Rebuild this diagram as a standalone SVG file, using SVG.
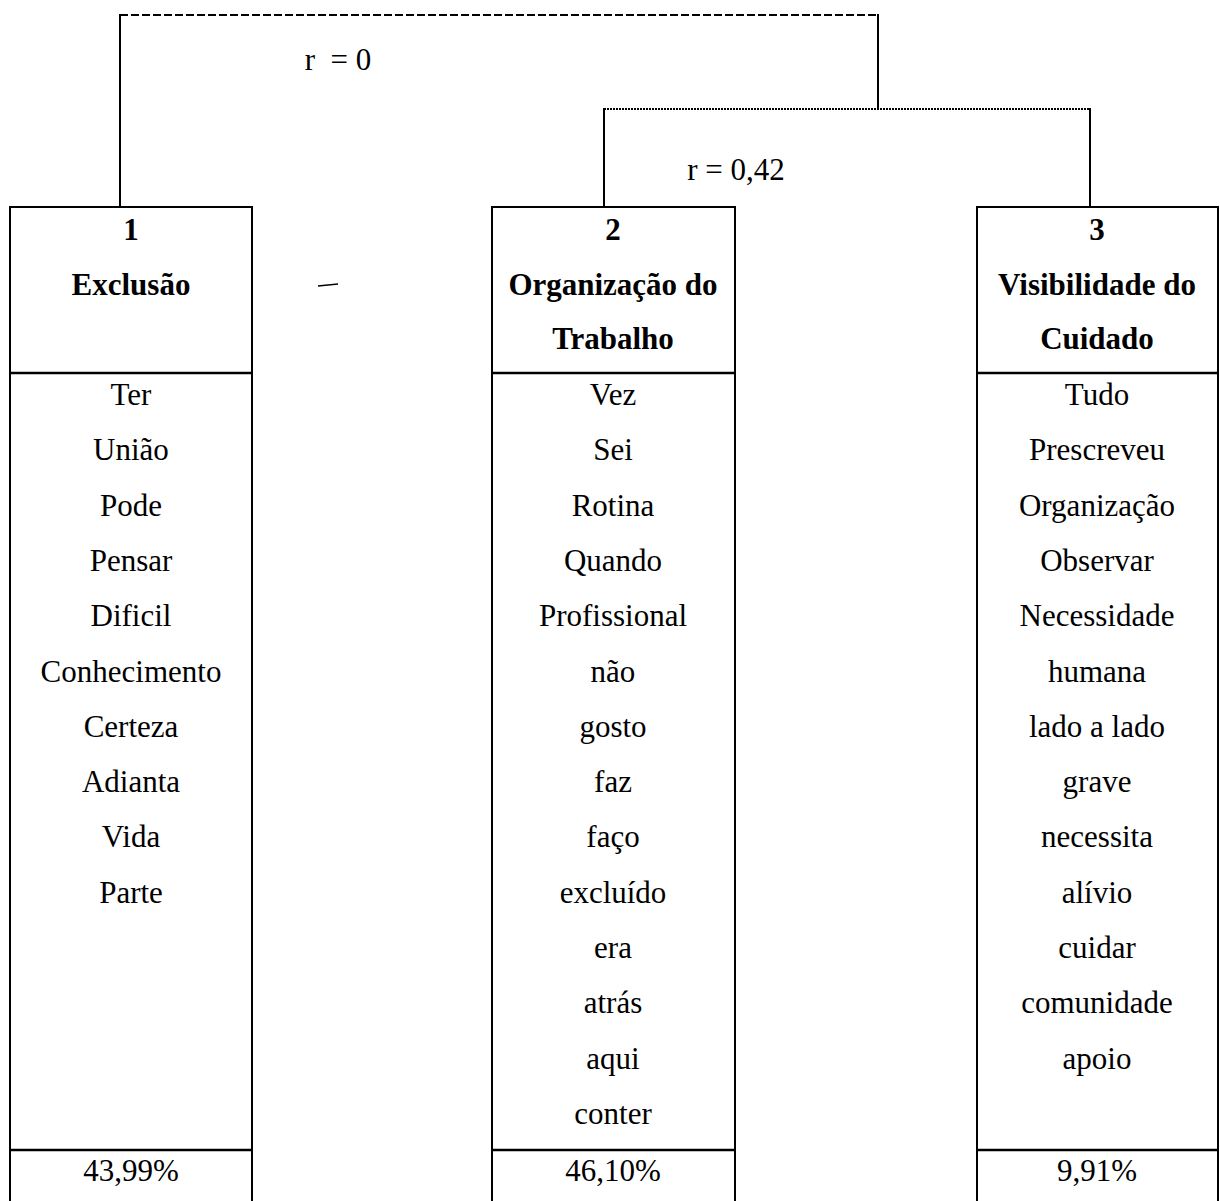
<svg xmlns="http://www.w3.org/2000/svg" width="1220" height="1201" viewBox="0 0 1220 1201">
<style>
.box{fill:none;stroke:#000;stroke-width:2}
.div{stroke:#000;stroke-width:2.5}
.t{font-family:"Liberation Serif","Times New Roman",serif;font-size:31px;fill:#000;text-anchor:middle}
.b{font-weight:bold}
.c{fill:none;stroke:#000;stroke-width:2}
.dash{fill:none;stroke:#000;stroke-width:2;stroke-dasharray:8 3}
.dot{fill:none;stroke:#000;stroke-width:2;stroke-dasharray:2 1}
</style>
<rect width="1220" height="1201" fill="#fff"/>
<g id="connectors">
<line class="dash" x1="120" y1="15" x2="878" y2="15"/>
<line class="c" x1="120" y1="14" x2="120" y2="207"/>
<line class="c" x1="878" y1="14" x2="878" y2="109"/>
<line class="dot" x1="604" y1="109" x2="1090" y2="109"/>
<line class="c" x1="604" y1="108" x2="604" y2="207"/>
<line class="c" x1="1090" y1="108" x2="1090" y2="207"/>
<text class="t" x="338" y="70" xml:space="preserve">r  = 0</text>
<text class="t" x="736" y="180">r = 0,42</text>
</g>
<line x1="318" y1="286" x2="338" y2="284" stroke="#000" stroke-width="1.5"/>
<g id="node1">
<path class="box" d="M10,1201 V207 H252 V1201"/>
<line class="div" x1="10" y1="373" x2="252" y2="373"/>
<line class="div" x1="10" y1="1150" x2="252" y2="1150"/>
<text class="t b" x="131" y="240">1</text>
<text class="t b" x="131" y="295">Exclusão</text>
<text class="t" x="131" y="405">Ter</text>
<text class="t" x="131" y="460">União</text>
<text class="t" x="131" y="516">Pode</text>
<text class="t" x="131" y="571">Pensar</text>
<text class="t" x="131" y="626">Dificil</text>
<text class="t" x="131" y="682">Conhecimento</text>
<text class="t" x="131" y="737">Certeza</text>
<text class="t" x="131" y="792">Adianta</text>
<text class="t" x="131" y="847">Vida</text>
<text class="t" x="131" y="903">Parte</text>
<text class="t" x="131" y="1181">43,99%</text>
</g>
<g id="node2">
<path class="box" d="M492,1201 V207 H735 V1201"/>
<line class="div" x1="492" y1="373" x2="735" y2="373"/>
<line class="div" x1="492" y1="1150" x2="735" y2="1150"/>
<text class="t b" x="613" y="240">2</text>
<text class="t b" x="613" y="295">Organização do</text>
<text class="t b" x="613" y="349">Trabalho</text>
<text class="t" x="613" y="405">Vez</text>
<text class="t" x="613" y="460">Sei</text>
<text class="t" x="613" y="516">Rotina</text>
<text class="t" x="613" y="571">Quando</text>
<text class="t" x="613" y="626">Profissional</text>
<text class="t" x="613" y="682">não</text>
<text class="t" x="613" y="737">gosto</text>
<text class="t" x="613" y="792">faz</text>
<text class="t" x="613" y="847">faço</text>
<text class="t" x="613" y="903">excluído</text>
<text class="t" x="613" y="958">era</text>
<text class="t" x="613" y="1013">atrás</text>
<text class="t" x="613" y="1069">aqui</text>
<text class="t" x="613" y="1124">conter</text>
<text class="t" x="613" y="1181">46,10%</text>
</g>
<g id="node3">
<path class="box" d="M977,1201 V207 H1218 V1201"/>
<line class="div" x1="977" y1="373" x2="1218" y2="373"/>
<line class="div" x1="977" y1="1150" x2="1218" y2="1150"/>
<text class="t b" x="1097" y="240">3</text>
<text class="t b" x="1097" y="295">Visibilidade do</text>
<text class="t b" x="1097" y="349">Cuidado</text>
<text class="t" x="1097" y="405">Tudo</text>
<text class="t" x="1097" y="460">Prescreveu</text>
<text class="t" x="1097" y="516">Organização</text>
<text class="t" x="1097" y="571">Observar</text>
<text class="t" x="1097" y="626">Necessidade</text>
<text class="t" x="1097" y="682">humana</text>
<text class="t" x="1097" y="737">lado a lado</text>
<text class="t" x="1097" y="792">grave</text>
<text class="t" x="1097" y="847">necessita</text>
<text class="t" x="1097" y="903">alívio</text>
<text class="t" x="1097" y="958">cuidar</text>
<text class="t" x="1097" y="1013">comunidade</text>
<text class="t" x="1097" y="1069">apoio</text>
<text class="t" x="1097" y="1181">9,91%</text>
</g>
</svg>
